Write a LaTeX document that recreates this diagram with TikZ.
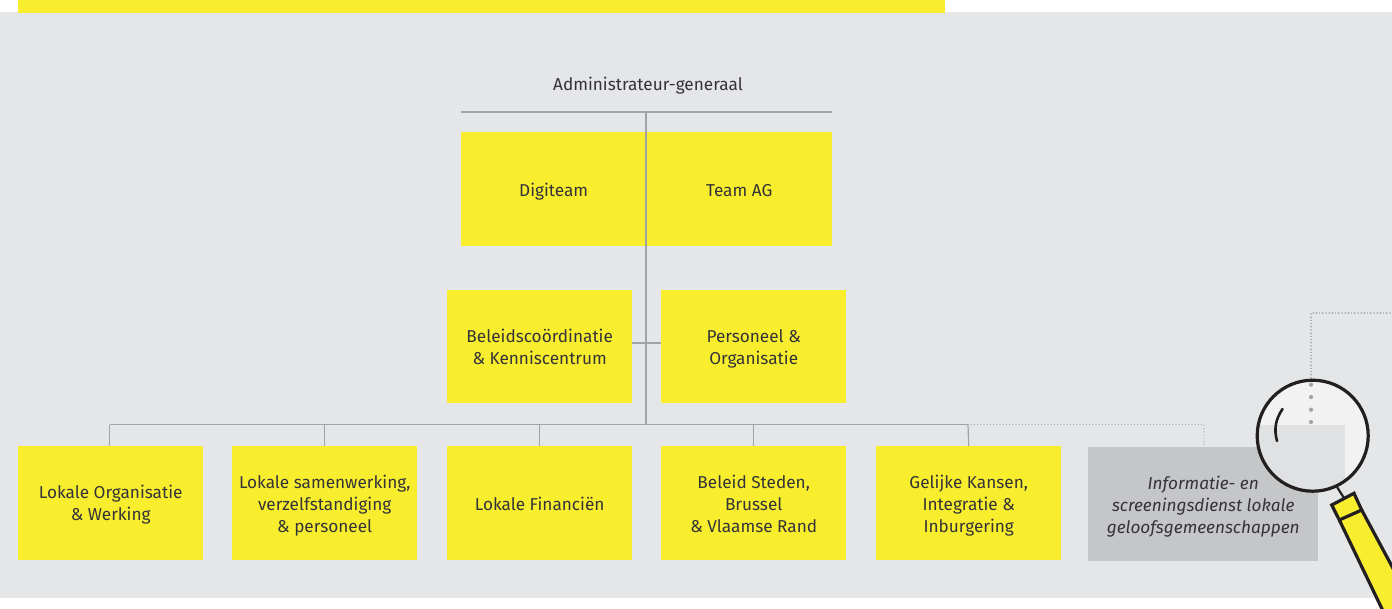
\documentclass[tikz,border=0pt]{standalone}
\usepackage{fontspec}
\setmainfont{Fira Sans}
\newcommand{\lnstrut}{\rule[-4pt]{0pt}{23pt}}
\definecolor{bgg}{HTML}{E5E6E8}
\definecolor{yel}{HTML}{F8EE2E}
\definecolor{grb}{HTML}{C5C6C8}
\definecolor{lin}{HTML}{A2A3A6}
\definecolor{txt}{HTML}{333338}
\definecolor{dk}{HTML}{231F20}
\definecolor{lensl}{HTML}{F2F2F3}
\definecolor{lensb}{HTML}{E0E1E3}
\tikzset{
 labeltext/.style={text=txt,align=center,inner sep=0pt,font=\fontsize{17.2}{22}\selectfont},
 oneline/.style={execute at begin node=\lnstrut},
 twolines/.style={text height=35.5pt,text depth=0pt},
 threelines/.style={text height=58.5pt,text depth=0pt},
 unitbox/.style={labeltext,fill=yel,minimum width=185pt,minimum height=113.5pt,anchor=north west},
 conn/.style={draw=lin,line width=1.2pt},
 dots/.style={draw=#1,line width=1.2pt,line cap=round,dash pattern=on 0pt off 3.2pt},
 lens/.style={draw=dk,line width=3.2pt}
}
\begin{document}
\begin{tikzpicture}[x=1pt,y=-1pt]
\useasboundingbox (0,0) rectangle (1392,608);
\fill[white] (0,0) rectangle (1392,608);
\fill[bgg] (0,12) rectangle (1392,597.5);
\fill[yel] (18,0) rectangle (945,13);
% boxes
\node[unitbox,oneline,minimum width=185pt] (dig) at (461,132) {Digiteam};
\node[unitbox,oneline,minimum width=186pt] (team) at (646,132) {Team AG};
\node[unitbox,twolines] (bel) at (447,289.5) {Beleidscoördinatie\\\& Kenniscentrum};
\node[unitbox,twolines] (per) at (661,289.5) {Personeel \&\\Organisatie};
\node[unitbox,twolines] (lo) at (18,446) {Lokale Organisatie\\\& Werking};
\node[unitbox,threelines] (ls) at (232,446) {Lokale samenwerking,\\verzelfstandiging\\\& personeel};
\node[unitbox,oneline] (lf) at (447,446) {Lokale Financiën};
\node[unitbox,threelines] (bs) at (661,446) {Beleid Steden,\\Brussel\\\& Vlaamse Rand};
\node[unitbox,threelines] (gk) at (876,446) {Gelijke Kansen,\\Integratie \&\\Inburgering};
\node[unitbox,threelines,fill=grb,minimum width=230pt,minimum height=114pt,font=\fontsize{17.2}{22}\selectfont\itshape] (inf) at (1088,447) {Informatie- en\\screeningsdienst lokale\\geloofsgemeenschappen};
\node[labeltext,oneline] (ag) at (648,83) {Administrateur-generaal};
% connectors
\coordinate (tl) at (461,112);
\coordinate (tr) at (832,112);
\coordinate (tm) at (646,112);
\coordinate (mid) at (646,343);
\coordinate (bm) at (646,424.5);
\coordinate (bl) at (109.5,424.5);
\coordinate (br) at (968,424.5);
\draw[conn] (tl) -- (tr);
\draw[conn] (tm) -- (bm);
\draw[conn] (bel.east |- mid) -- (per.west |- mid);
\draw[conn] (bl) -- (br);
\draw[conn] (bl) -- (bl |- lo.north);
\draw[conn] (ls.north |- bl) -- (ls.north);
\draw[conn] (lf.north |- bl) -- (lf.north);
\draw[conn] (bs.north |- bl) -- (bs.north);
\draw[conn] (br) -- (gk.north);
\coordinate (dc) at (1204,424.5);
\draw[dots=lin] (br) -- (dc) -- (dc |- inf.north);
\coordinate (ub) at (1311,313);
\coordinate (ur) at (1392,313);
\coordinate (ud) at (1311,378);
\draw[dots=txt!80!bgg] (ud) -- (ub) -- (ur);
% magnifier
\coordinate (lc) at (1312.7,435.7);
\fill[yel] (1339.3,520) -- (1383,611) -- (1395,611) -- (1395,572) -- (1361.7,510) -- cycle;
\draw[lens] (1339.3,520) -- (1383,611);
\draw[lens] (1361.7,510) -- (1395,572);
\draw[lens,fill=yel] (1331.7,505) -- (1354,493.3) -- (1361.7,510) -- (1339.3,520) -- cycle;
\draw[dk,line width=2.2pt] (1337,487) -- (1344,498);
\begin{scope}
\clip (lc) circle (55.5);
\fill[lensl] (lc) circle (55.5);
\fill[lensb] (1200,424.5) rectangle (1345,520);
\foreach \yy in {384.7,397,409.7,422} \fill[lin] (1311,\yy) circle (2.1);
\end{scope}
\draw[lens] (lc) circle (55.5);
\draw[dk,line width=2.6pt,line cap=round] (1282.5,409) .. controls (1275,420) and (1274,430) .. (1277,441);
\end{tikzpicture}
\end{document}
